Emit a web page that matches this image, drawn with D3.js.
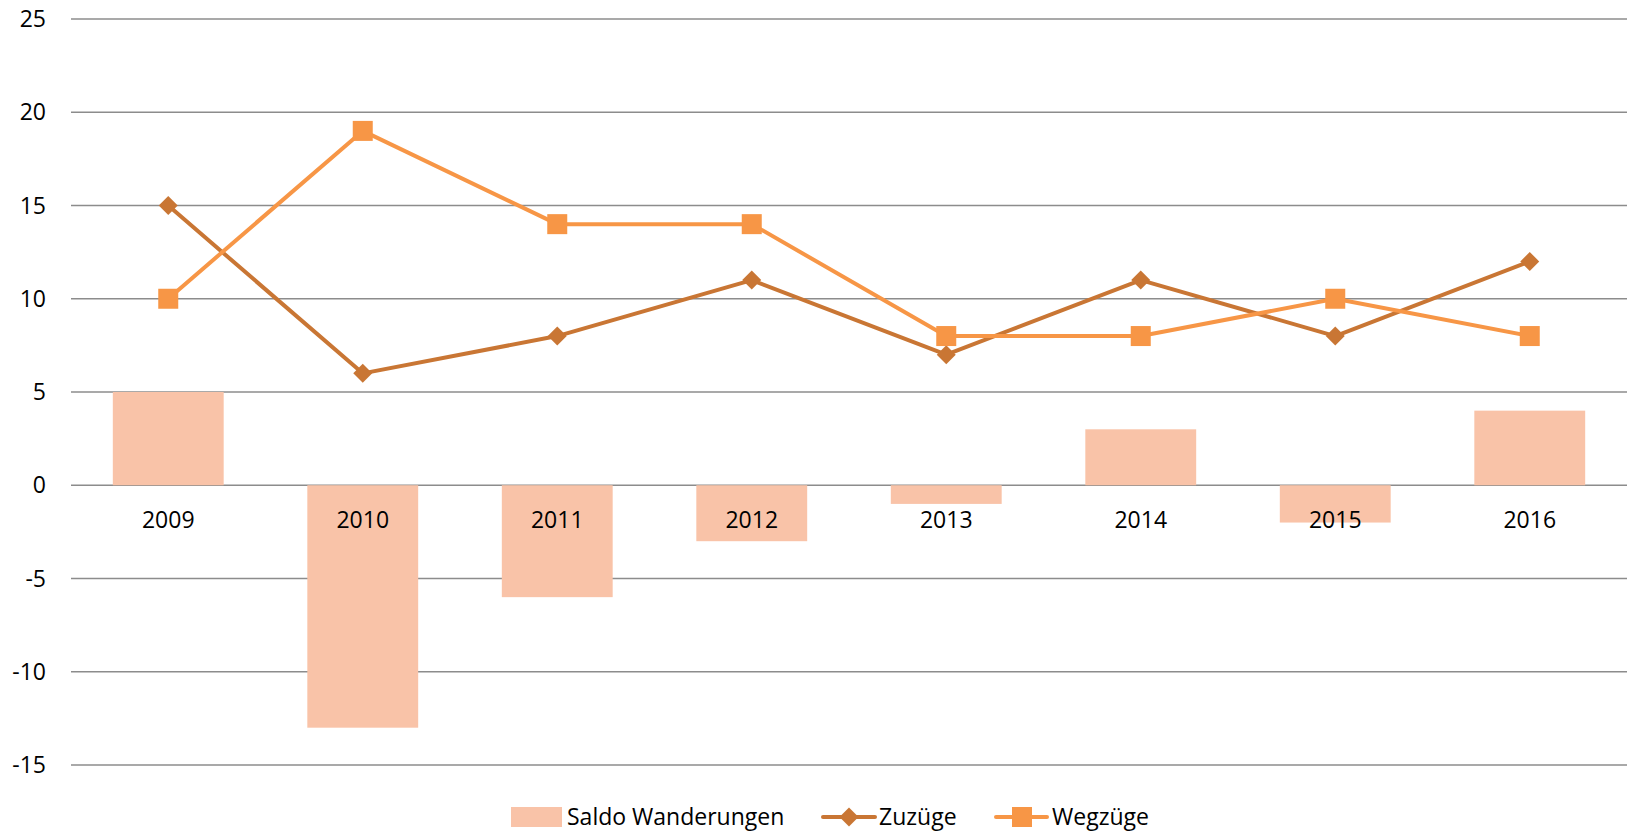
<!DOCTYPE html>
<html>
<head>
<meta charset="utf-8">
<script src="https://cdn.jsdelivr.net/npm/d3@7"></script>
<style>
  body { margin: 0; background: #fff; }
  svg { display: block; font-family: "Open Sans", sans-serif; }
</style>
</head>
<body>
<div id="chart"></div>
<script>
const years = ["2009", "2010", "2011", "2012", "2013", "2014", "2015", "2016"];
const saldo = [5, -13, -6, -3, -1, 3, -2, 4];
const zuzuege = [15, 6, 8, 11, 7, 11, 8, 12];
const wegzuege = [10, 19, 14, 14, 8, 8, 10, 8];
const yTicks = [-15, -10, -5, 0, 5, 10, 15, 20, 25];

const width = 1628, height = 834;
const margin = { top: 19, right: 1, bottom: 69, left: 71 };

const svg = d3.select("#chart").append("svg")
  .attr("width", width)
  .attr("height", height);

const x = d3.scaleBand()
  .domain(years)
  .range([margin.left, width - margin.right])
  .paddingInner(0.43)
  .paddingOuter(0.215);

const xc = d3.scaleBand()
  .domain(years)
  .range([margin.left, width - margin.right]);

const y = d3.scaleLinear()
  .domain([-15, 25])
  .range([height - margin.bottom, margin.top]);

// gridlines
svg.append("g")
  .selectAll("line")
  .data(yTicks)
  .join("line")
  .attr("x1", margin.left)
  .attr("x2", width - margin.right)
  .attr("y1", d => y(d))
  .attr("y2", d => y(d))
  .attr("stroke", "#8c8c8c")
  .attr("stroke-width", 1.5);

// y labels
svg.append("g")
  .selectAll("text")
  .data(yTicks)
  .join("text")
  .attr("x", 46)
  .attr("y", d => y(d))
  .attr("dy", "0.35em")
  .attr("text-anchor", "end")
  .style("font-size", "23px")
  .attr("fill", "#000")
  .text(d => d);

// bars
svg.append("g")
  .attr("fill", "#f9c3a8")
  .selectAll("rect")
  .data(saldo)
  .join("rect")
  .attr("x", (d, i) => x(years[i]))
  .attr("width", x.bandwidth())
  .attr("y", d => y(Math.max(0, d)))
  .attr("height", d => Math.abs(y(d) - y(0)));

// x labels
svg.append("g")
  .selectAll("text")
  .data(years)
  .join("text")
  .attr("x", d => xc(d) + xc.bandwidth() / 2)
  .attr("y", 528)
  .attr("text-anchor", "middle")
  .style("font-size", "23px")
  .attr("fill", "#000")
  .text(d => d);

const line = d3.line()
  .x((d, i) => xc(years[i]) + xc.bandwidth() / 2)
  .y(d => y(d));

// Zuzüge
svg.append("path")
  .datum(zuzuege)
  .attr("d", line)
  .attr("fill", "none")
  .attr("stroke", "#c97634")
  .attr("stroke-width", 4)
  .attr("stroke-linejoin", "round");

svg.append("g")
  .attr("fill", "#c97634")
  .selectAll("path")
  .data(zuzuege)
  .join("path")
  .attr("transform", (d, i) => `translate(${xc(years[i]) + xc.bandwidth() / 2},${y(d)}) rotate(45)`)
  .attr("d", "M-6.7,-6.7H6.7V6.7H-6.7Z");

// Wegzüge
svg.append("path")
  .datum(wegzuege)
  .attr("d", line)
  .attr("fill", "none")
  .attr("stroke", "#f79646")
  .attr("stroke-width", 4)
  .attr("stroke-linejoin", "round");

svg.append("g")
  .attr("fill", "#f79646")
  .selectAll("rect")
  .data(wegzuege)
  .join("rect")
  .attr("x", (d, i) => xc(years[i]) + xc.bandwidth() / 2 - 10)
  .attr("y", d => y(d) - 10)
  .attr("width", 20)
  .attr("height", 20);

// legend
const legend = svg.append("g");
const ly = 817;

legend.append("rect")
  .attr("x", 511).attr("y", ly - 10)
  .attr("width", 51).attr("height", 20)
  .attr("fill", "#f9c3a8");
legend.append("text")
  .attr("x", 567).attr("y", ly).attr("dy", "0.35em")
  .style("font-size", "23px").text("Saldo Wanderungen");

legend.append("line")
  .attr("x1", 823).attr("x2", 875).attr("y1", ly).attr("y2", ly)
  .attr("stroke", "#c97634").attr("stroke-width", 4).attr("stroke-linecap", "round");
legend.append("path")
  .attr("transform", `translate(849,${ly}) rotate(45)`)
  .attr("d", "M-6.7,-6.7H6.7V6.7H-6.7Z")
  .attr("fill", "#c97634");
legend.append("text")
  .attr("x", 879).attr("y", ly).attr("dy", "0.35em")
  .style("font-size", "23px").text("Zuzüge");

legend.append("line")
  .attr("x1", 996).attr("x2", 1047).attr("y1", ly).attr("y2", ly)
  .attr("stroke", "#f79646").attr("stroke-width", 4).attr("stroke-linecap", "round");
legend.append("rect")
  .attr("x", 1012).attr("y", ly - 10)
  .attr("width", 20).attr("height", 20)
  .attr("fill", "#f79646");
legend.append("text")
  .attr("x", 1052).attr("y", ly).attr("dy", "0.35em")
  .style("font-size", "23px").text("Wegzüge");
</script>
</body>
</html>
